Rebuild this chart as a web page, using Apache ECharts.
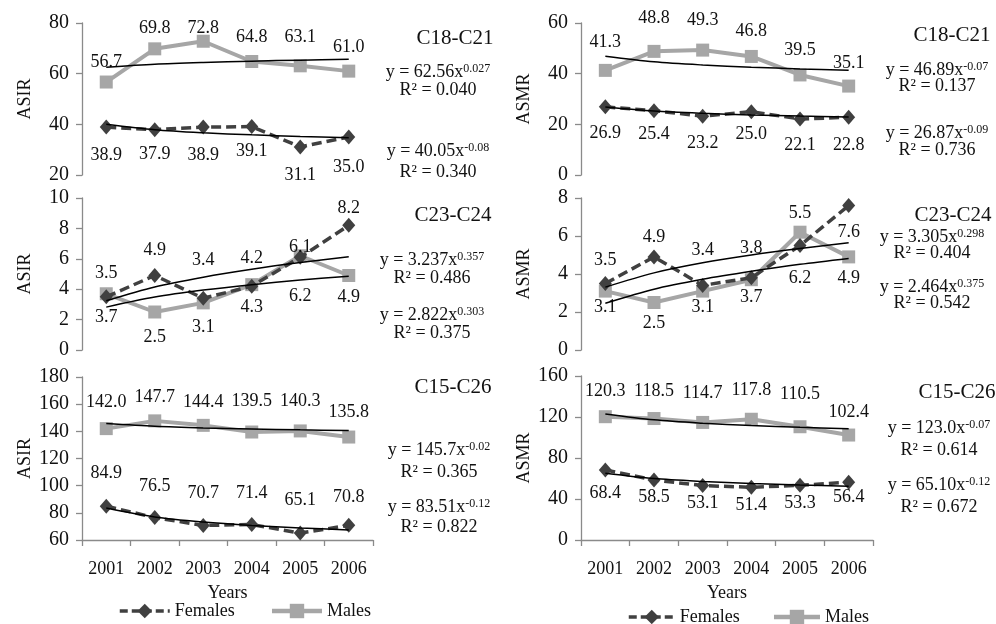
<!DOCTYPE html>
<html>
<head>
<meta charset="utf-8">
<script src="https://cdn.jsdelivr.net/npm/echarts@6/dist/echarts.min.js"></script>
<style>
  html, body { margin: 0; padding: 0; background: #fff; }
  #main { width: 996px; height: 624px; }
</style>
</head>
<body>
<div id="main"></div>
<script>
// 年份
var years = ['2001', '2002', '2003', '2004', '2005', '2006'];

// ASIR (incidence)
var asirC18F = [38.9, 37.9, 38.9, 39.1, 31.1, 35.0];
var asirC18M = [56.7, 69.8, 72.8, 64.8, 63.1, 61.0];
var asirC23F = [3.5, 4.9, 3.4, 4.2, 6.1, 8.2];
var asirC23M = [3.7, 2.5, 3.1, 4.3, 6.2, 4.9];
var asirC15F = [84.9, 76.5, 70.7, 71.4, 65.1, 70.8];
var asirC15M = [142.0, 147.7, 144.4, 139.5, 140.3, 135.8];

// ASMR (mortality)
var asmrC18F = [26.9, 25.4, 23.2, 25.0, 22.1, 22.8];
var asmrC18M = [41.3, 48.8, 49.3, 46.8, 39.5, 35.1];
var asmrC23F = [3.5, 4.9, 3.4, 3.8, 5.5, 7.6];
var asmrC23M = [3.1, 2.5, 3.1, 3.7, 6.2, 4.9];
var asmrC15F = [68.4, 58.5, 53.1, 51.4, 53.3, 56.4];
var asmrC15M = [120.3, 118.5, 114.7, 117.8, 110.5, 102.4];

// power trend lines, values read at each year
var asirC18Ft = [40.05, 37.89, 36.68, 35.85, 35.21, 34.70];
var asirC18Mt = [62.56, 63.74, 64.44, 64.95, 65.34, 65.66];
var asirC23Ft = [3.24, 4.15, 4.79, 5.31, 5.75, 6.14];
var asirC23Mt = [2.82, 3.48, 3.94, 4.30, 4.60, 4.86];
var asirC15Ft = [83.5, 76.9, 73.2, 70.7, 68.9, 67.4];
var asirC15Mt = [145.7, 143.7, 142.5, 141.7, 141.1, 140.6];
var asmrC18Ft = [26.87, 25.24, 24.34, 23.72, 23.25, 22.87];
var asmrC18Mt = [46.89, 44.67, 43.42, 42.55, 41.89, 41.36];
var asmrC23Ft = [3.31, 4.06, 4.59, 5.00, 5.34, 5.64];
var asmrC23Mt = [2.46, 3.20, 3.72, 4.14, 4.51, 4.82];
var asmrC15Ft = [65.1, 59.9, 57.1, 55.1, 53.7, 52.5];
var asmrC15Mt = [123.0, 117.2, 113.9, 111.6, 109.9, 108.5];

var FONT = 'Liberation Serif';
var FEM = '#404040', MAL = '#a6a6a6', INK = '#111';

// 每个面板: 位置, 轴, 数据, 标签偏移
var panels = [
  { grid: [82, 23, 291, 152], min: 20, max: 80, step: 20, name: 'ASIR', bottom: false,
    f: asirC18F, m: asirC18M, ft: asirC18Ft, mt: asirC18Mt,
    fDy: [28, 25, 28, 25, 28, 30], mDy: [-20, -21, -13, -24, -29, -24] },
  { grid: [82, 198, 291, 152], min: 0, max: 10, step: 2, name: 'ASIR', bottom: false,
    f: asirC23F, m: asirC23M, ft: asirC23Ft, mt: asirC23Mt,
    fDy: [-24, -25, -38, -28, -10, -17], mDy: [24, 25, 24, 23, 41, 22] },
  { grid: [82, 377, 291, 163], min: 60, max: 180, step: 20, name: 'ASIR', bottom: true,
    f: asirC15F, m: asirC15M, ft: asirC15Ft, mt: asirC15Mt,
    fDy: [-33, -31, -32, -31, -33, -28], mDy: [-26, -24, -23, -31, -30, -25] },
  { grid: [581, 23, 292, 152], min: 0, max: 60, step: 20, name: 'ASMR', bottom: false,
    f: asmrC18F, m: asmrC18M, ft: asmrC18Ft, mt: asmrC18Mt,
    fDy: [26, 24, 27, 23, 26, 28], mDy: [-28, -33, -30, -25, -25, -23] },
  { grid: [581, 198, 292, 152], min: 0, max: 8, step: 2, name: 'ASMR', bottom: false,
    f: asmrC23F, m: asmrC23M, ft: asmrC23Ft, mt: asmrC23Mt,
    fDy: [-23, -20, -35, -30, -32, 27], mDy: [16, 21, 16, 18, 46, 21] },
  { grid: [581, 376, 292, 164], min: 0, max: 160, step: 40, name: 'ASMR', bottom: true,
    f: asmrC15F, m: asmrC15M, ft: asmrC15Ft, mt: asmrC15Mt,
    fDy: [23, 17, 18, 18, 18, 15], mDy: [-25, -27, -29, -29, -32, -23] }
];

// 右侧文字
var notes = [
  { x: 455, y: 38, big: 'C18-C21' },
  { x: 438, y: 72, eq: ['62.56', '0.027'] }, { x: 438, y: 90, r2: '0.040' },
  { x: 438, y: 151, eq: ['40.05', '-0.08'] }, { x: 438, y: 172, r2: '0.340' },
  { x: 453, y: 215, big: 'C23-C24' },
  { x: 432, y: 260, eq: ['3.237', '0.357'] }, { x: 432, y: 278, r2: '0.486' },
  { x: 432, y: 315, eq: ['2.822', '0.303'] }, { x: 432, y: 333, r2: '0.375' },
  { x: 453, y: 387, big: 'C15-C26' },
  { x: 439, y: 450, eq: ['145.7', '-0.02'] }, { x: 439, y: 472, r2: '0.365' },
  { x: 439, y: 507, eq: ['83.51', '-0.12'] }, { x: 439, y: 527, r2: '0.822' },
  { x: 952, y: 35, big: 'C18-C21' },
  { x: 937, y: 70, eq: ['46.89', '-0.07'] }, { x: 937, y: 86, r2: '0.137' },
  { x: 937, y: 133, eq: ['26.87', '-0.09'] }, { x: 937, y: 150, r2: '0.736' },
  { x: 953, y: 215, big: 'C23-C24' },
  { x: 932, y: 237, eq: ['3.305', '0.298'] }, { x: 932, y: 253, r2: '0.404' },
  { x: 932, y: 287, eq: ['2.464', '0.375'] }, { x: 932, y: 303, r2: '0.542' },
  { x: 957, y: 392, big: 'C15-C26' },
  { x: 939, y: 428, eq: ['123.0', '-0.07'] }, { x: 939, y: 450, r2: '0.614' },
  { x: 939, y: 485, eq: ['65.10', '-0.12'] }, { x: 939, y: 507, r2: '0.672' }
];

var myChart = echarts.init(document.getElementById('main'));

var grids = [], xAxes = [], yAxes = [], series = [];

function labelled(values, dys) {
  return values.map(function (v, i) {
    return { value: v, label: { offset: [0, dys[i]] } };
  });
}

panels.forEach(function (p, i) {
  grids.push({ left: p.grid[0], top: p.grid[1], width: p.grid[2], height: p.grid[3] });
  xAxes.push({
    type: 'category', gridIndex: i, data: years, show: p.bottom,
    name: p.bottom ? 'Years' : '', nameLocation: 'middle', nameGap: 44,
    nameTextStyle: { fontSize: 18, color: INK, fontFamily: FONT },
    axisLine: { lineStyle: { color: '#8a8a8a', width: 1.3 } },
    axisTick: { show: true, length: 6, lineStyle: { color: '#8a8a8a', width: 1.3 } },
    axisLabel: { fontSize: 18, color: INK, margin: 20, fontFamily: FONT }
  });
  yAxes.push({
    type: 'value', gridIndex: i, min: p.min, max: p.max, interval: p.step,
    name: p.name, nameLocation: 'middle', nameGap: 48, nameRotate: 90,
    nameTextStyle: { fontSize: 18, color: INK, fontFamily: FONT },
    splitLine: { show: false },
    axisLine: { show: true, lineStyle: { color: '#8a8a8a', width: 1.3 } },
    axisTick: { show: true, length: 6, lineStyle: { color: '#8a8a8a', width: 1.3 } },
    axisLabel: { fontSize: 20, color: INK, margin: 13, fontFamily: FONT }
  });
  var lab = {
    show: true, position: 'inside', fontSize: 18, color: INK, fontFamily: FONT,
    formatter: function (d) { return d.value.toFixed(1); }
  };
  series.push({
    name: 'Males', type: 'line', xAxisIndex: i, yAxisIndex: i,
    data: labelled(p.m, p.mDy), symbol: 'rect', symbolSize: 13,
    itemStyle: { color: MAL }, lineStyle: { color: MAL, width: 4 },
    label: lab, z: 2
  });
  series.push({
    name: 'Females', type: 'line', xAxisIndex: i, yAxisIndex: i,
    data: labelled(p.f, p.fDy), symbol: 'diamond', symbolSize: [13, 15],
    itemStyle: { color: FEM }, lineStyle: { color: FEM, width: 3.5, type: [10, 5] },
    label: lab, z: 3
  });
  [p.mt, p.ft].forEach(function (t, k) {
    series.push({
      name: k ? 'Power (Females)' : 'Power (Males)', type: 'line',
      xAxisIndex: i, yAxisIndex: i, data: t, smooth: 0.3,
      showSymbol: false, symbol: 'none', silent: true,
      lineStyle: { color: '#000', width: 1.5 }, z: 4
    });
  });
});

var graphics = notes.map(function (n) {
  var txt, size = 18;
  if (n.big) { txt = n.big; size = 21; }
  else if (n.eq) { txt = 'y = ' + n.eq[0] + 'x{sup|' + n.eq[1] + '}'; }
  else { txt = 'R² = ' + n.r2; }
  return {
    type: 'text', x: n.x, y: n.y,
    style: {
      text: txt, fontFamily: FONT, fontSize: size, fill: INK,
      align: 'center', verticalAlign: 'middle',
      rich: { sup: { fontSize: 12, fontFamily: FONT, fill: INK, verticalAlign: 'top', lineHeight: 12, padding: [0, 0, 8, 0] } }
    }
  };
});

var legendItems = [
  { name: 'Females', lineStyle: { width: 3.5, type: [8, 4] } },
  { name: 'Males', lineStyle: { width: 4.5 } }
];

myChart.setOption({
  backgroundColor: '#fff',
  animation: false,
  textStyle: { fontFamily: FONT },
  grid: grids,
  xAxis: xAxes,
  yAxis: yAxes,
  legend: [
    { left: 118, top: 602, padding: 0, itemWidth: 50, itemHeight: 18, itemGap: 35,
      data: legendItems, textStyle: { fontSize: 18, color: INK, fontFamily: FONT } },
    { left: 627, top: 608, padding: 0, itemWidth: 46, itemHeight: 18, itemGap: 32,
      data: legendItems, textStyle: { fontSize: 18, color: INK, fontFamily: FONT } }
  ],
  series: series,
  graphic: graphics
});
</script>
</body>
</html>
